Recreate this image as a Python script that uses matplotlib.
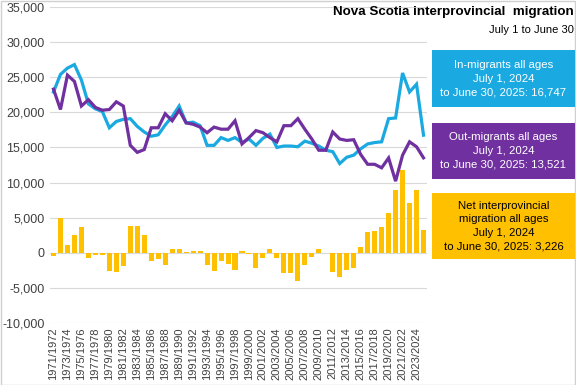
#!/usr/bin/env python3

import matplotlib
matplotlib.use("Agg")
import matplotlib.pyplot as plt
from matplotlib.patches import Rectangle
from matplotlib.ticker import FuncFormatter

years = ["%d/%d" % (y, y + 1) for y in range(1971, 2025)]

# thousands of people
in_migrants = [22.9, 25.4, 26.3, 26.8, 24.6, 21.2, 20.5, 20.1, 17.8, 18.7,
               19.0, 19.1, 18.0, 17.2, 16.6, 16.8, 18.2, 19.4, 20.9, 18.5,
               18.6, 18.1, 15.3, 15.3, 16.4, 16.0, 16.4, 15.7, 16.2, 15.3,
               16.3, 16.9, 15.0, 15.2, 15.2, 15.1, 15.9, 15.6, 15.2, 14.6,
               14.4, 12.7, 13.6, 13.9, 14.8, 15.5, 15.7, 15.8, 19.1, 19.2,
               25.6, 22.9, 24.0, 16.747]
out_migrants = [23.3, 20.4, 25.3, 24.4, 20.9, 21.8, 20.7, 20.3, 20.4, 21.5,
                20.9, 15.3, 14.3, 14.7, 17.8, 17.8, 19.8, 18.8, 20.3, 18.5,
                18.3, 17.9, 17.1, 17.9, 17.6, 17.6, 18.8, 15.5, 16.4, 17.4,
                17.1, 16.4, 15.8, 18.1, 18.1, 19.1, 17.6, 16.2, 14.6, 14.6,
                17.2, 16.2, 16.0, 16.1, 14.0, 12.6, 12.6, 12.1, 13.5, 10.2,
                13.9, 15.8, 15.1, 13.521]
net = [-0.5, 4.9, 1.05, 2.5, 3.6, -0.8, -0.3, -0.3, -2.6, -2.8,
       -1.9, 3.8, 3.8, 2.6, -1.2, -0.9, -1.7, 0.6, 0.6, 0.05,
       0.3, 0.2, -1.8, -2.6, -1.2, -1.6, -2.4, 0.2, -0.2, -2.1,
       -0.8, 0.5, -0.8, -2.9, -2.9, -4.0, -1.7, -0.6, 0.6, 0.02,
       -2.8, -3.5, -2.4, -2.2, 0.8, 2.95, 3.1, 3.6, 5.7, 8.95,
       11.8, 7.1, 8.95, 3.226]

in_m = [v * 1000 for v in in_migrants]
out_m = [v * 1000 for v in out_migrants]
net_m = [v * 1000 for v in net]

CYAN = "#1aa9e1"
PURPLE = "#7030a0"
GOLD = "#ffc000"
GREY = "#404040"

plt.rcParams["font.family"] = ["Liberation Sans", "DejaVu Sans"]

W, H = 576, 385
fig = plt.figure(figsize=(W / 100, H / 100), dpi=100)
fig.patches.append(Rectangle((0.5 / W, 0.5 / H), 1 - 1.5 / W, 1 - 1.5 / H,
                             transform=fig.transFigure, fill=False,
                             edgecolor="#d0d0d0", lw=1))

ax = fig.add_axes([50 / W, 1 - 323 / H, 377 / W, 316 / H])
x = list(range(len(years)))

ax.bar(x, net_m, width=0.72, color=GOLD, zorder=2)
ax.plot(x, in_m, color=CYAN, lw=2.3, zorder=3, solid_joinstyle="miter")
ax.plot(x, out_m, color=PURPLE, lw=2.3, zorder=3, solid_joinstyle="miter")

ax.set_xlim(-0.5, len(years) - 0.5)
ax.set_ylim(-10000, 35000)
ax.set_yticks(range(-10000, 35001, 5000))
ax.yaxis.set_major_formatter(FuncFormatter(lambda v, p: "{:,}".format(int(v))))
ax.set_xticks(x[::2])
ax.set_xticklabels(years[::2], rotation=90)
ax.tick_params(length=0, colors=GREY, pad=3)
ax.tick_params(axis="x", labelsize=8)
ax.tick_params(axis="y", labelsize=9, pad=4)
ax.grid(axis="y", color="#d9d9d9", lw=0.8, zorder=0)
for s in ax.spines.values():
    s.set_visible(False)

# title
fig.text(574 / W, 1 - 12 / H, "Nova Scotia interprovincial  migration",
         ha="right", va="center", fontsize=9.6, fontweight="bold", color="black")
fig.text(574 / W, 1 - 30 / H, "July 1 to June 30",
         ha="right", va="center", fontsize=8, color="black")

# side boxes
boxes = [
    (50, 107, CYAN, "white",
     "In-migrants all ages\nJuly 1, 2024\nto June 30, 2025: 16,747"),
    (123, 179, PURPLE, "white",
     "Out-migrants all ages\nJuly 1, 2024\nto June 30, 2025: 13,521"),
    (193, 259, GOLD, "black",
     "Net interprovincial\nmigration all ages\nJuly 1, 2024\nto June 30, 2025: 3,226"),
]
for top, bottom, fc, tc, txt in boxes:
    fig.patches.append(Rectangle((432 / W, 1 - bottom / H), 143 / W, (bottom - top) / H,
                                 transform=fig.transFigure, color=fc, lw=0))
    fig.text(503.5 / W, 1 - (top + bottom) / 2 / H, txt, ha="center", va="center",
             fontsize=8.2, color=tc, linespacing=1.45)

fig.savefig("out.png", dpi=100)
